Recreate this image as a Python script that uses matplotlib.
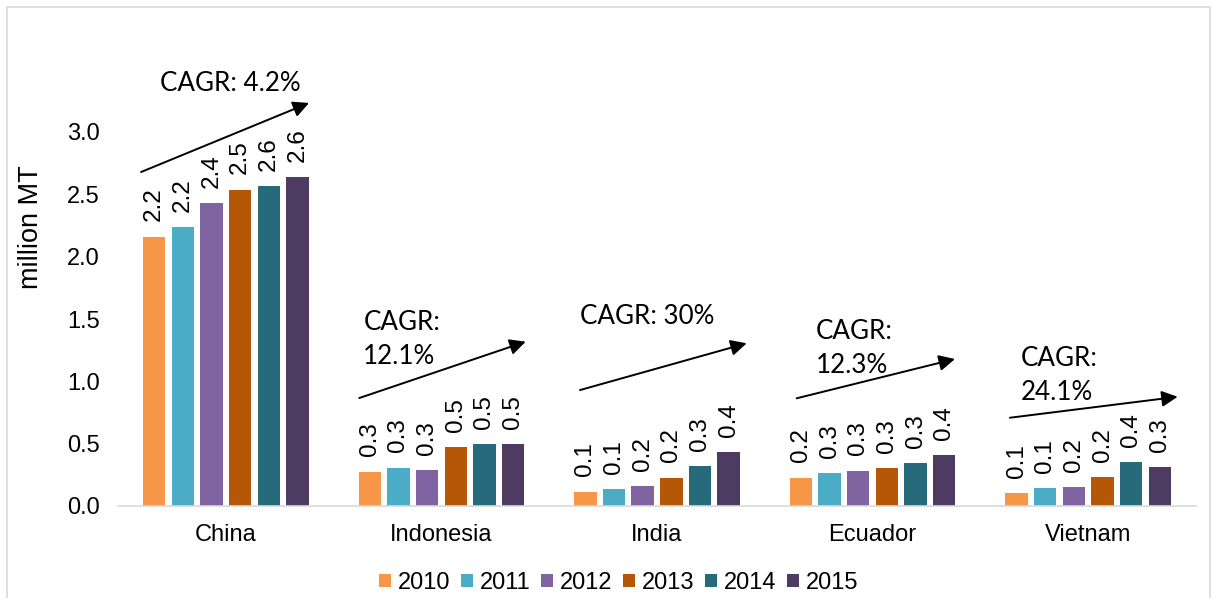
import matplotlib
matplotlib.use("Agg")
import matplotlib.pyplot as plt
from matplotlib.patches import Rectangle
import numpy as np

countries = ["China", "Indonesia", "India", "Ecuador", "Vietnam"]
years = ["2010", "2011", "2012", "2013", "2014", "2015"]
v2010 = [2.16, 0.275, 0.115, 0.227, 0.104]
v2011 = [2.235, 0.307, 0.136, 0.265, 0.144]
v2012 = [2.432, 0.286, 0.158, 0.283, 0.152]
v2013 = [2.537, 0.470, 0.227, 0.305, 0.233]
v2014 = [2.564, 0.495, 0.321, 0.345, 0.352]
v2015 = [2.636, 0.495, 0.433, 0.409, 0.313]
series = [v2010, v2011, v2012, v2013, v2014, v2015]
colors = ["#F79646", "#4BACC6", "#8064A2", "#B65708", "#276A7B", "#4D3B62"]

cagr_labels = ["CAGR: 4.2%", "CAGR:\n12.1%", "CAGR: 30%", "CAGR:\n12.3%", "CAGR:\n24.1%"]

plt.rcParams['font.family'] = ['Liberation Sans', 'DejaVu Sans']

W, H = 1215, 598
fig = plt.figure(figsize=(W / 100, H / 100), dpi=100)
ax = fig.add_axes([118 / W, (H - 506) / H, 1078 / W, 374 / H])

x = np.arange(len(countries))
slot = 0.133
bw = 0.104
for i, (vals, c, yr) in enumerate(zip(series, colors, years)):
    xs = x + (i - 2.5) * slot
    ax.bar(xs, vals, width=bw, color=c, label=yr, zorder=2)
    for xi, v in zip(xs, vals):
        ax.annotate(f"{v:.1f}", (xi, v), xytext=(0, 11), textcoords="offset points",
                    rotation=90, ha="center", va="bottom", fontsize=17.5)

ax.set_xlim(-0.5, 4.5)
ax.set_ylim(0, 3.0)
ticks = np.arange(0, 3.01, 0.5)
ax.set_yticks(ticks)
ax.set_yticklabels([f"{t:.1f}" for t in ticks])
ax.set_xticks(x)
ax.set_xticklabels(countries)
ax.tick_params(axis="both", length=0, labelsize=17)
ax.tick_params(axis="x", pad=13)
ax.tick_params(axis="y", pad=13)
for s in ["top", "right", "left"]:
    ax.spines[s].set_visible(False)
ax.spines["bottom"].set_color("#D9D9D9")
ax.spines["bottom"].set_linewidth(1.2)

fig.text(31 / W, 1 - 227 / H, "million MT", rotation=90, ha="center", va="center", fontsize=19.5)

# CAGR arrows (offsets relative to category positions)
arrow_start_dx = [-0.393, -0.381, -0.357, -0.352, -0.363]
arrow_start_y = [2.679, 0.866, 0.930, 0.864, 0.708]
arrow_end_dx = [0.386, 0.391, 0.416, 0.382, 0.415]
arrow_end_y = [3.233, 1.318, 1.305, 1.179, 0.876]
text_dx = [-0.305, -0.362, -0.357, -0.263, -0.313]
text_y = [3.393, 1.338, 1.517, 1.265, 1.044]

for i in range(len(countries)):
    ax.annotate("", xy=(x[i] + arrow_end_dx[i], arrow_end_y[i]),
                xytext=(x[i] + arrow_start_dx[i], arrow_start_y[i]),
                arrowprops=dict(arrowstyle="-|>", lw=1.4, color="black",
                                mutation_scale=24, shrinkA=0, shrinkB=0),
                annotation_clip=False)
    ax.text(x[i] + text_dx[i], text_y[i], cagr_labels[i], ha="left", va="center",
            fontsize=18.7, family=["Lato", "DejaVu Sans"], linespacing=1.45, clip_on=False)

fig.legend(loc="center", bbox_to_anchor=(619 / W, 1 - 583 / H), ncol=6, frameon=False,
           fontsize=17, handlelength=0.5, handleheight=0.5, handletextpad=0.3,
           columnspacing=0.45, borderaxespad=0)

fig.add_artist(Rectangle((7 / W, -0.05), (1210 - 7) / W, 1.05 - 7 / H,
                         transform=fig.transFigure, fill=False, edgecolor="#D9D9D9", lw=1.2))

fig.savefig("out.png", dpi=100)
